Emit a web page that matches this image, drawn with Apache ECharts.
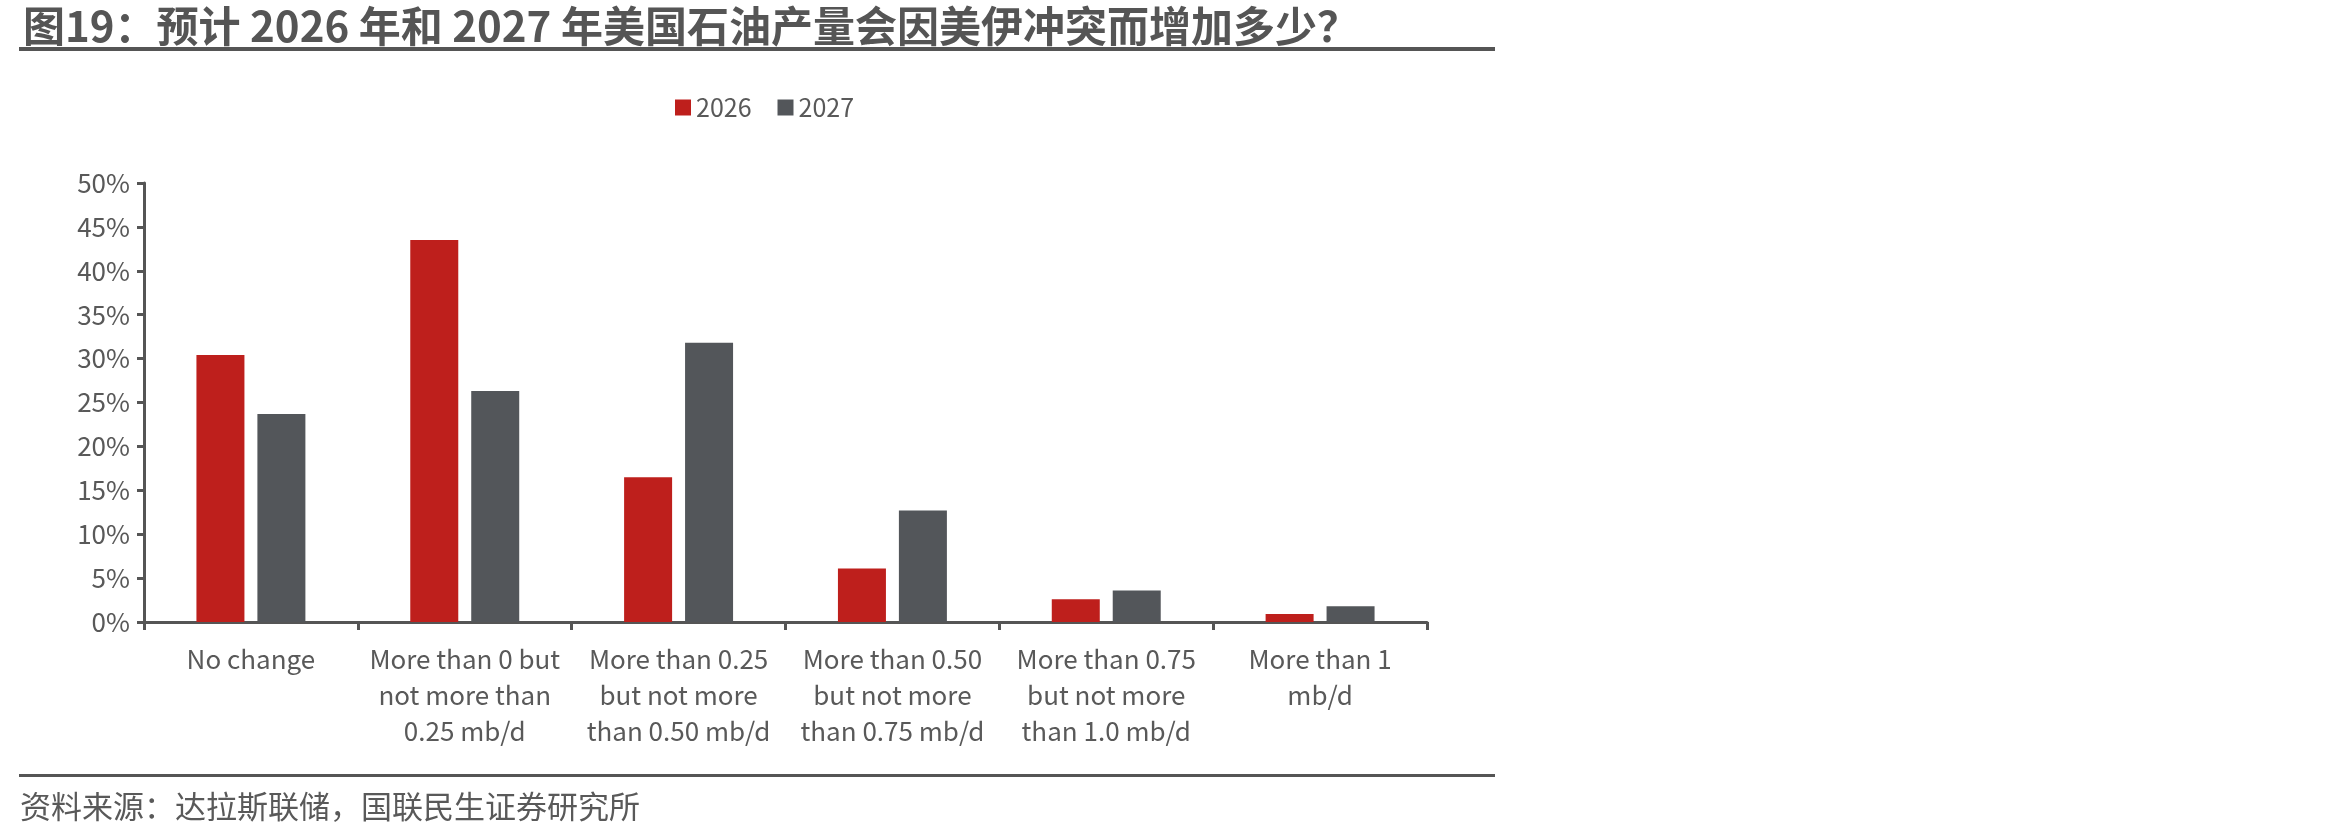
<!DOCTYPE html>
<html lang="zh">
<head>
<meta charset="utf-8"/>
<title>美国石油产量</title>
<script src="https://cdn.jsdelivr.net/npm/echarts@6/dist/echarts.min.js"></script>
<style>
  html, body { margin: 0; padding: 0; background: #fff; }
  #main { width: 2328px; height: 837px; }
</style>
</head>
<body>
<div id="main"></div>
<script type="text/javascript">
// 数据
var categories = [
  'No change',
  'More than 0 but\nnot more than\n0.25 mb/d',
  'More than 0.25\nbut not more\nthan 0.50 mb/d',
  'More than 0.50\nbut not more\nthan 0.75 mb/d',
  'More than 0.75\nbut not more\nthan 1.0 mb/d',
  'More than 1\nmb/d'
];
var seriesNames = ['2026', '2027'];
var values2026 = [30.4, 43.5, 16.5, 6.1, 2.6, 0.9];
var values2027 = [23.7, 26.3, 31.8, 12.7, 3.6, 1.8];
var yTicks = [0, 5, 10, 15, 20, 25, 30, 35, 40, 45, 50];

var FONT = '"Noto Sans CJK SC", "Noto Sans", sans-serif';
var TEXT = '#595959';
var RED = '#BE1F1C';
var GRAY = '#53565A';

var chart = echarts.init(document.getElementById('main'));
var option = {
  animation: false,
  textStyle: { fontFamily: FONT, color: TEXT },
  title: {
    text: '图19：预计 2026 年和 2027 年美国石油产量会因美伊冲突而增加多少？',
    left: 18,
    top: 0,
    textStyle: { fontFamily: FONT, fontSize: 42, fontWeight: 'bold', color: '#555555' }
  },
  legend: {
    data: seriesNames,
    left: 670,
    top: 90,
    itemWidth: 16,
    itemHeight: 16,
    itemGap: 26,
    icon: 'rect',
    textStyle: { fontFamily: FONT, fontSize: 25, color: TEXT }
  },
  grid: { left: 144, right: 901, top: 183, bottom: 215, containLabel: false },
  xAxis: {
    type: 'category',
    data: categories,
    axisLine: { lineStyle: { color: '#555555', width: 3 } },
    axisTick: { show: true, length: 8, lineStyle: { color: '#555555', width: 3 } },
    axisLabel: {
      interval: 0,
      margin: 19,
      fontFamily: FONT,
      fontSize: 26,
      lineHeight: 36,
      color: TEXT
    }
  },
  yAxis: {
    type: 'value',
    min: yTicks[0],
    max: yTicks[yTicks.length - 1],
    interval: 5,
    splitLine: { show: false },
    axisLine: { show: true, lineStyle: { color: '#555555', width: 3 } },
    axisTick: { show: true, inside: false, length: 7, lineStyle: { color: '#555555', width: 3 } },
    axisLabel: {
      formatter: '{value}%',
      margin: 14,
      fontFamily: FONT,
      fontSize: 26,
      color: TEXT
    }
  },
  series: [
    {
      name: seriesNames[0],
      type: 'bar',
      data: values2026,
      barWidth: 48,
      barGap: '27%',
      itemStyle: { color: RED }
    },
    {
      name: seriesNames[1],
      type: 'bar',
      data: values2027,
      barWidth: 48,
      itemStyle: { color: GRAY }
    }
  ],
  graphic: [
    { type: 'rect', shape: { x: 19, y: 47, width: 1476, height: 4 }, style: { fill: '#555555' } },
    { type: 'rect', shape: { x: 19, y: 774, width: 1476, height: 3 }, style: { fill: '#555555' } },
    {
      type: 'text',
      left: 20,
      top: 791,
      style: { text: '资料来源：达拉斯联储，国联民生证券研究所', fontFamily: FONT, fontSize: 31, fill: TEXT }
    }
  ]
};
chart.setOption(option);
</script>
</body>
</html>
